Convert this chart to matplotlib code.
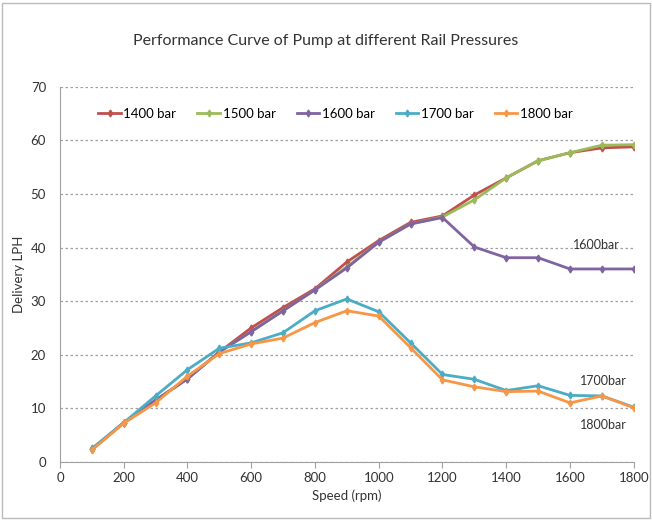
import numpy as np
import matplotlib.pyplot as plt
from matplotlib.patches import Rectangle

plt.rcParams['font.family'] = ['Lato', 'DejaVu Sans']

# speed (rpm)
speed = [100, 200, 300, 400, 500, 600, 700, 800, 900,
         1000, 1100, 1200, 1300, 1400, 1500, 1600, 1700, 1800]

# delivery LPH for each rail pressure
bar_1400 = [2.3, 7.3, 11.5, 15.5, 20.5, 25.0, 28.8, 32.3, 37.3,
            41.3, 44.7, 45.9, 49.8, 53.0, 56.2, 57.7, 58.6, 58.8]
bar_1500 = [2.3, 7.3, 11.5, 15.5, 20.5, 24.3, 28.2, 32.1, 36.4,
            41.0, 44.4, 45.7, 48.9, 53.0, 56.2, 57.7, 59.1, 59.2]
bar_1600 = [2.3, 7.3, 11.5, 15.5, 20.5, 24.3, 28.2, 32.1, 36.2,
            41.0, 44.4, 45.6, 40.1, 38.1, 38.1, 36.0, 36.0, 36.0]
bar_1700 = [2.5, 7.3, 12.3, 17.2, 21.2, 22.2, 24.1, 28.2, 30.4,
            28.0, 22.2, 16.3, 15.4, 13.3, 14.2, 12.4, 12.3, 10.2]
bar_1800 = [2.2, 7.2, 11.0, 16.0, 20.2, 22.0, 23.1, 26.0, 28.2,
            27.2, 21.3, 15.3, 14.0, 13.1, 13.2, 11.0, 12.3, 10.1]

series = [("1400 bar", bar_1400, "#C0504D"),
          ("1500 bar", bar_1500, "#9BBB59"),
          ("1600 bar", bar_1600, "#8064A2"),
          ("1700 bar", bar_1700, "#4BACC6"),
          ("1800 bar", bar_1800, "#F79646")]

fig = plt.figure(figsize=(6.52, 5.23), dpi=100)
ax = fig.add_axes([0.092, 0.117, 0.880, 0.717])

for name, vals, col in series:
    ax.plot(speed, vals, color=col, lw=2.0, marker='d', ms=3.5, label=name)

ax.set_xlim(0, 1800)
ax.set_ylim(0, 70)
ax.set_xticks(np.arange(0, 1801, 200))
ax.set_yticks(np.arange(0, 71, 10))
ax.grid(axis='y', color='#A0A0A0', ls=(0, (2, 2)), lw=0.9)
ax.set_axisbelow(True)
for s in ['top', 'right']:
    ax.spines[s].set_visible(False)
for s in ['left', 'bottom']:
    ax.spines[s].set_color('#A0A0A0')
ax.tick_params(axis='both', labelsize=9.5, colors='#333333', length=4)
ax.tick_params(axis='y', length=0, pad=10)
ax.tick_params(axis='both', color='#A0A0A0')

ax.set_xlabel("Speed (rpm)", fontsize=9.5, color='#333333', labelpad=4)
ax.set_ylabel("Delivery LPH", fontsize=9.5, color='#333333', labelpad=4)
fig.suptitle("Performance Curve of Pump at different Rail Pressures",
             fontsize=11.5, color='#333333', y=0.935)

ax.legend(loc='upper center', bbox_to_anchor=(0.48, 0.975), ncol=5,
          frameon=False, fontsize=9.5, handlelength=1.7, columnspacing=1.6,
          handletextpad=0.2)

ax.text(1610, 40.5, "1600bar", fontsize=9, color='#333333', ha='left', va='center')
ax.text(1630, 15.0, "1700bar", fontsize=9, color='#333333', ha='left', va='center')
ax.text(1630, 6.8, "1800bar", fontsize=9, color='#333333', ha='left', va='center')

fig.patches.append(Rectangle((0.003, 0.01), 0.994, 0.985, transform=fig.transFigure,
                             fill=False, edgecolor='#BBBBBB', lw=1))

fig.savefig("out.png", dpi=100)
